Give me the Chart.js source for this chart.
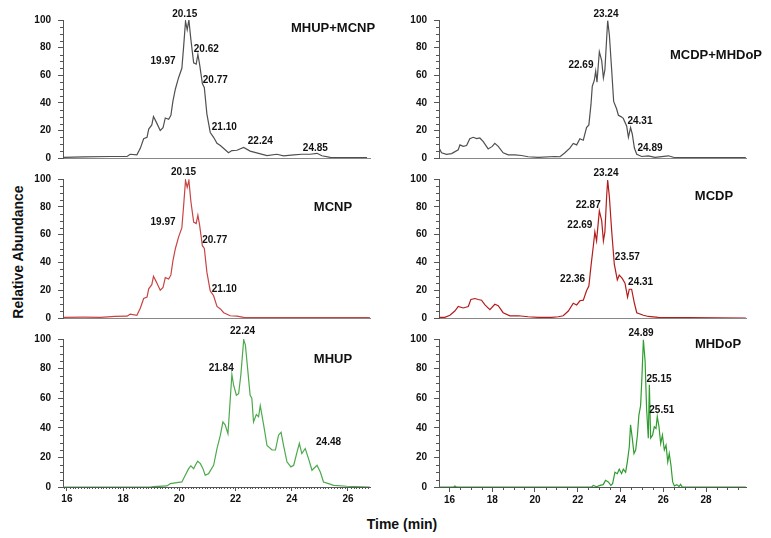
<!DOCTYPE html>
<html>
<head>
<meta charset="utf-8">
<script src="https://cdn.jsdelivr.net/npm/chart.js@4.4.1/dist/chart.umd.min.js"></script>
<style>
  body { margin: 0; background: #fff; }
  #wrap { position: relative; width: 771px; height: 538px; overflow: hidden; font-family: "Liberation Sans", Arial, sans-serif; }
  #wrap canvas { position: absolute; }
  .axis-title { position: absolute; font-weight: bold; font-size: 14px; color: #111; white-space: nowrap; }
  #yTitle { left: 18px; top: 252px; transform: translate(-50%, -50%) rotate(-90deg); }
  #xTitle { left: 402px; top: 524px; transform: translate(-50%, -50%); }
</style>
</head>
<body>
<div id="wrap">
  <div class="axis-title" id="yTitle">Relative Abundance</div>
  <div class="axis-title" id="xTitle">Time (min)</div>
</div>
<script>
// --- data (time in min, relative abundance in %) ---
const mhupMcnpTime  = [15.88, 16.59, 17.54, 18.14, 18.25, 18.49, 18.61, 18.73, 18.85, 18.91, 19.02, 19.08, 19.18, 19.32, 19.42, 19.50, 19.62, 19.70, 19.77, 19.86, 19.97, 20.09, 20.15, 20.22, 20.28, 20.34, 20.41, 20.51, 20.60, 20.66, 20.72, 20.82, 20.89, 20.98, 21.10, 21.22, 21.34, 21.46, 21.63, 21.75, 21.87, 22.05, 22.29, 22.52, 22.82, 23.12, 23.47, 23.71, 24.07, 24.36, 24.66, 24.90, 25.07, 25.37, 26.68];
const mhupMcnpAbund = [0.5, 0.8, 1.1, 1.1, 2.7, 2.3, 7, 14, 15, 21, 24, 30, 26, 20, 22, 29, 28, 31, 41, 50, 58, 65, 80, 99, 93, 100, 86, 69, 68, 75, 68, 54, 51, 32, 18.5, 15, 10.6, 9, 6, 3.8, 5.4, 5.6, 7.7, 5, 3.4, 1.8, 2.7, 1.6, 2.3, 2.7, 2.7, 3.4, 1.6, 0.5, 0.3];

const mcnpTime  = [15.88, 16.59, 17.20, 17.70, 18.14, 18.25, 18.49, 18.61, 18.73, 18.85, 18.91, 19.02, 19.08, 19.18, 19.32, 19.42, 19.50, 19.62, 19.70, 19.77, 19.86, 19.97, 20.09, 20.15, 20.22, 20.28, 20.34, 20.41, 20.51, 20.60, 20.66, 20.72, 20.82, 20.89, 20.98, 21.10, 21.22, 21.34, 21.46, 21.58, 21.81, 22.05, 22.29, 22.60, 26.78];
const mcnpAbund = [0.5, 0.6, 0.5, 1.1, 1.3, 2.7, 2.0, 7, 14, 15, 21, 24, 30, 26, 20, 22, 29, 28, 31, 41, 50, 58, 65, 80, 99, 94, 99, 84, 69, 68, 74, 67, 52, 50, 33, 19.5, 16, 8.3, 6.5, 3.8, 1.6, 1.3, 0.5, 0.2, 0.2];

const mhupTime  = [15.86, 18.97, 19.08, 19.56, 19.68, 19.91, 20.09, 20.21, 20.33, 20.41, 20.51, 20.57, 20.65, 20.75, 20.84, 20.92, 21.04, 21.22, 21.34, 21.46, 21.55, 21.63, 21.73, 21.79, 21.87, 21.93, 22.03, 22.11, 22.19, 22.29, 22.35, 22.43, 22.52, 22.58, 22.64, 22.74, 22.82, 22.88, 23.00, 23.12, 23.30, 23.42, 23.53, 23.62, 23.71, 23.83, 23.97, 24.07, 24.19, 24.27, 24.36, 24.48, 24.60, 24.72, 24.90, 25.02, 25.13, 25.31, 25.49, 25.96, 26.78];
const mhupAbund = [0, 0, 0.2, 0.7, 2.3, 3, 3.4, 8, 12.4, 14.3, 12.4, 14.7, 17.4, 15.8, 12.4, 8, 9, 14.7, 26, 35, 44, 42, 36, 53, 76, 69, 62, 63, 76, 99.5, 96, 80, 62, 60, 44, 49, 47.5, 55, 42, 28, 25, 25, 35, 37, 28, 17, 13.6, 14.7, 23.8, 29.4, 22.6, 26, 19, 11.3, 14.7, 10, 3.4, 2.3, 1.1, 0.5, 0];

const mcdpMhdopTime  = [15.52, 15.63, 15.86, 16.10, 16.41, 16.49, 16.64, 16.80, 16.95, 17.11, 17.27, 17.42, 17.58, 17.81, 18.00, 18.12, 18.28, 18.51, 18.75, 19.06, 19.37, 19.68, 20.15, 20.93, 21.17, 21.40, 21.63, 21.79, 21.95, 22.10, 22.26, 22.41, 22.52, 22.62, 22.68, 22.77, 22.84, 22.90, 23.01, 23.12, 23.20, 23.27, 23.35, 23.40, 23.48, 23.59, 23.68, 23.82, 23.90, 24.02, 24.13, 24.29, 24.37, 24.47, 24.55, 24.65, 24.76, 24.99, 25.30, 25.61, 26.24, 26.55, 29.86];
const mcdpMhdopAbund = [7, 3.8, 2.7, 3.2, 6, 9.5, 8.4, 9, 14, 15, 14, 14.5, 11.8, 6.6, 8.4, 10.6, 8.4, 3.8, 2.3, 2.3, 1.8, 0.9, 0.5, 1.1, 0.9, 3.8, 7.2, 10.6, 9.5, 14, 12.9, 22, 24, 39, 52, 56, 63, 55, 77, 70.6, 58, 64, 86, 99.5, 89, 63, 41, 35.5, 31, 30, 28.7, 23, 15, 22, 17.4, 7.2, 2.7, 1.1, 1.6, 0.5, 1.6, 0.2, 0.2];

const mcdpTime  = [15.52, 15.78, 16.02, 16.25, 16.41, 16.64, 16.88, 17.00, 17.19, 17.34, 17.50, 17.66, 17.89, 18.12, 18.28, 18.51, 18.83, 19.22, 19.68, 20.15, 20.78, 21.09, 21.32, 21.56, 21.79, 21.95, 22.10, 22.26, 22.41, 22.52, 22.62, 22.73, 22.80, 22.88, 23.01, 23.12, 23.20, 23.27, 23.35, 23.40, 23.48, 23.59, 23.71, 23.85, 23.94, 24.08, 24.21, 24.33, 24.41, 24.52, 24.65, 24.76, 25.07, 25.30, 25.77, 29.86];
const mcdpAbund = [0.5, 0.5, 2, 5, 8.3, 7.2, 8.3, 13.3, 14, 13.3, 12.8, 9.4, 6, 9.9, 8.8, 3.8, 1.6, 1.6, 0.9, 0.5, 0.5, 0.9, 1.6, 5, 10.6, 9.4, 12.4, 12.8, 19.6, 23, 37.5, 52, 62, 55.5, 77, 70, 55.5, 62, 87, 99.3, 87, 62, 38.7, 27.4, 30.8, 28.5, 25, 15, 20.7, 20.7, 10.6, 3.8, 2, 1.1, 0.5, 0];

const mhdopTime  = [15.52, 16.20, 16.25, 16.33, 22.65, 22.73, 22.88, 23.04, 23.19, 23.30, 23.43, 23.55, 23.63, 23.74, 23.85, 23.94, 24.05, 24.13, 24.24, 24.32, 24.41, 24.47, 24.55, 24.63, 24.71, 24.79, 24.86, 24.94, 25.00, 25.07, 25.15, 25.22, 25.30, 25.35, 25.41, 25.50, 25.58, 25.66, 25.72, 25.80, 25.88, 25.96, 26.05, 26.13, 26.21, 26.28, 26.36, 26.44, 26.52, 26.63, 26.74, 26.81, 26.89, 29.86];
const mhdopAbund = [0, 0, 0.7, 0, 0, 1.1, 0.2, 1.1, 1.6, 4.5, 3.4, 1.1, 2.3, 10, 9, 12, 9, 12, 10, 17, 27, 42, 33, 22.6, 25, 35, 48.6, 55, 73.5, 99.5, 85, 53, 33, 69, 33, 35, 40.7, 39.6, 47.5, 40.7, 29.4, 35, 25, 28.3, 17, 22.6, 14.7, 3.4, 0.7, 1.6, 0.3, 1.8, 0, 0];

// peak annotations: [label, time, abundance] at the label centre
const mhupMcnpPeaks = [["20.15", 20.19, 104], ["19.97", 19.42, 70], ["20.62", 20.96, 79], ["20.77", 21.28, 56], ["21.10", 21.60, 22], ["22.24", 22.88, 12], ["24.85", 24.84, 7]];
const mcnpPeaks     = [["20.15", 20.15, 104.5], ["19.97", 19.42, 69], ["20.77", 21.26, 56], ["21.10", 21.60, 21]];
const mhupPeaks     = [["22.24", 22.25, 105], ["21.84", 21.49, 80], ["24.48", 25.31, 30]];
const mcdpMhdopPeaks = [["23.24", 23.32, 104], ["22.69", 22.15, 67], ["24.31", 24.91, 26.5], ["24.89", 25.38, 7.2]];
const mcdpPeaks     = [["23.24", 23.32, 104], ["22.87", 22.49, 81], ["22.69", 22.10, 67], ["23.57", 24.32, 43.6], ["24.31", 24.94, 26], ["22.36", 21.76, 28]];
const mhdopPeaks    = [["24.89", 24.96, 104], ["25.15", 25.80, 73], ["25.51", 25.93, 52]];

// --- layout (page pixels) ---
const cols = [
  { left: 63, right: 370, xmin: 15.86, xmax: 26.785, minorStep: 0.1, minorLen: 2 },
  { left: 439, right: 746, xmin: 15.51, xmax: 29.87, minorStep: 0.5, minorLen: 3 }
];
const rows = [
  { top: 20, bottom: 167, labels: false },
  { top: 179, bottom: 327, labels: false },
  { top: 339, bottom: 487, labels: true }
];
const panels = [
  { col: 0, row: 0, name: "MHUP+MCNP",  nameX: 333, nameY: 28,  color: "#505050", t: mhupMcnpTime,  v: mhupMcnpAbund,  peaks: mhupMcnpPeaks },
  { col: 0, row: 1, name: "MCNP",       nameX: 333, nameY: 207, color: "#c94444", t: mcnpTime,      v: mcnpAbund,      peaks: mcnpPeaks },
  { col: 0, row: 2, name: "MHUP",       nameX: 333, nameY: 359, color: "#4caa4c", t: mhupTime,      v: mhupAbund,      peaks: mhupPeaks },
  { col: 1, row: 0, name: "MCDP+MHDoP", nameX: 716, nameY: 55,  color: "#505050", t: mcdpMhdopTime, v: mcdpMhdopAbund, peaks: mcdpMhdopPeaks },
  { col: 1, row: 1, name: "MCDP",       nameX: 714, nameY: 196, color: "#b41c1c", t: mcdpTime,      v: mcdpAbund,      peaks: mcdpPeaks },
  { col: 1, row: 2, name: "MHDoP",      nameX: 718, nameY: 344, color: "#2f9d2f", t: mhdopTime,     v: mhdopAbund,     peaks: mhdopPeaks }
];

const padL = 55, padT = 14, padR = 24;
const FONT = '"Liberation Sans", Arial, sans-serif';
Chart.defaults.font.family = FONT;
Chart.defaults.font.weight = 'bold';
Chart.defaults.font.size = 10;
Chart.defaults.color = '#111';

const decor = {};

// minor ticks, peak labels and the trace name
const chromDecor = {
  id: 'chromDecor',
  afterDraw(chart) {
    const d = decor[chart.canvas.id];
    const { ctx, chartArea: a, scales: { x, y } } = chart;
    ctx.save();
    ctx.strokeStyle = '#555';
    ctx.lineWidth = 1;
    ctx.beginPath();
    for (let v = 5; v < 100; v += 5) {
      if (v % 20 === 0) continue;
      const py = Math.round(y.getPixelForValue(v)) + 0.5;
      ctx.moveTo(a.left - 3, py);
      ctx.lineTo(a.left, py);
    }
    if (d.xLabels) {
      const step = d.minorStep;
      for (let k = Math.ceil(x.min / step); k * step <= x.max; k++) {
        const t = k * step;
        if (Math.abs(t / 2 - Math.round(t / 2)) < 1e-6) continue;
        const px = Math.round(x.getPixelForValue(t)) + 0.5;
        ctx.moveTo(px, a.bottom);
        ctx.lineTo(px, a.bottom + d.minorLen);
      }
    }
    ctx.stroke();

    ctx.fillStyle = '#111';
    ctx.textAlign = 'center';
    ctx.textBaseline = 'middle';
    ctx.font = 'bold 10px ' + FONT;
    d.peaks.forEach(([txt, t, v]) => {
      ctx.fillText(txt, x.getPixelForValue(t), y.getPixelForValue(v));
    });
    ctx.font = 'bold 13px ' + FONT;
    ctx.fillText(d.name, d.nameX, d.nameY);
    ctx.restore();
  }
};

const wrap = document.getElementById('wrap');

panels.forEach((p, i) => {
  const c = cols[p.col], r = rows[p.row];
  const bottomH = r.labels ? 24 : 4;
  const cv = document.createElement('canvas');
  cv.id = 'panel' + i;
  const left = c.left - padL, top = r.top - padT;
  const w = padL + (c.right - c.left) + padR;
  const h = padT + (r.bottom - r.top) + bottomH;
  cv.width = w; cv.height = h;
  cv.style.left = left + 'px';
  cv.style.top = top + 'px';
  cv.style.width = w + 'px';
  cv.style.height = h + 'px';
  wrap.appendChild(cv);

  decor[cv.id] = {
    peaks: p.peaks, name: p.name,
    nameX: p.nameX - left, nameY: p.nameY - top,
    xLabels: r.labels, minorStep: c.minorStep, minorLen: c.minorLen
  };

  new Chart(cv.getContext('2d'), {
    type: 'line',
    data: {
      datasets: [{
        data: p.t.map((t, k) => ({ x: t, y: p.v[k] })),
        borderColor: p.color,
        borderWidth: 1.2,
        pointRadius: 0,
        tension: 0,
        fill: false
      }]
    },
    options: {
      responsive: false,
      animation: false,
      events: [],
      layout: { padding: { top: padT, right: padR, left: 0, bottom: 0 } },
      plugins: { legend: { display: false }, tooltip: { enabled: false } },
      scales: {
        x: {
          type: 'linear',
          min: c.xmin,
          max: c.xmax,
          afterFit: s => { s.height = bottomH; },
          border: { display: true, color: r.labels ? '#555' : '#888', width: 1 },
          grid: { display: r.labels, drawOnChartArea: false, tickLength: c.minorLen + 2, color: '#555' },
          ticks: {
            display: r.labels,
            stepSize: 2,
            includeBounds: false,
            padding: 2,
            maxRotation: 0,
            autoSkip: false,
            font: { size: 10, weight: 'bold' }
          }
        },
        y: {
          min: 0,
          max: 100,
          afterFit: s => { s.width = padL; },
          border: { display: true, color: '#555', width: 1 },
          grid: { drawOnChartArea: false, tickLength: 5, color: '#555' },
          ticks: { stepSize: 20, padding: 7, font: { size: 10, weight: 'bold' } }
        }
      }
    },
    plugins: [chromDecor]
  });
});
</script>
</body>
</html>
